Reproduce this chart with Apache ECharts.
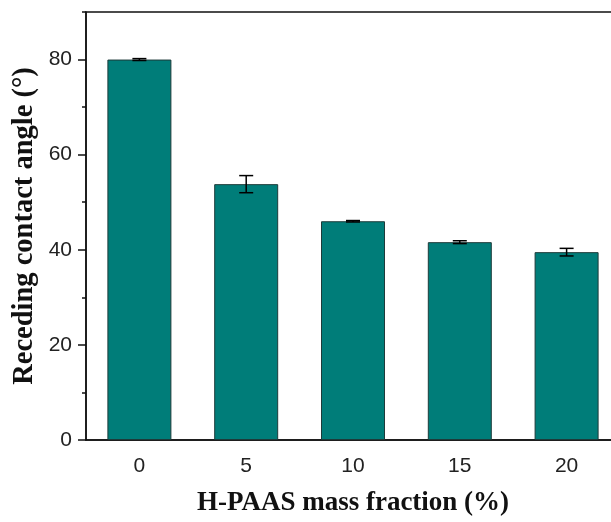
<!DOCTYPE html>
<html>
<head>
<meta charset="utf-8">
<script src="https://cdn.jsdelivr.net/npm/echarts@6/dist/echarts.min.js"></script>
<style>
  html, body { margin: 0; padding: 0; background: #fff; overflow: hidden; }
  #chart { width: 620px; height: 522px; }
</style>
</head>
<body>
<div id="chart"></div>
<script>
// H-PAAS mass fraction (%)
const categories = ['0', '5', '10', '15', '20']
// receding contact angle (°) and its error
const angles = [80.0, 53.8, 46.0, 41.6, 39.5]
const errors = [0.2, 1.8, 0.15, 0.3, 0.8]
const yTicks = [0, 20, 40, 60, 80]

const barColor = '#007d79'
const axisColor = '#111'
const labelFont = { fontFamily: 'Liberation Sans', fontSize: 21, color: '#222' }

const errorData = angles.map((v, i) => [i, v - errors[i], v + errors[i]])

// the plot runs a few pixels past the right edge of the window, as in the figure
const chart = echarts.init(document.getElementById('chart'), null, { renderer: 'canvas' })

const option = {
  animation: false,
  backgroundColor: '#fff',
  grid: {
    left: 86,
    right: 0,
    top: 12,
    bottom: 81,
    show: true,
    borderColor: axisColor,
    borderWidth: 1.5
  },
  xAxis: [{
    type: 'category',
    data: categories,
    position: 'bottom',
    axisLine: { lineStyle: { color: axisColor, width: 1.5 } },
    axisTick: { alignWithLabel: true, length: 7, lineStyle: { color: axisColor, width: 1.5 } },
    axisLabel: Object.assign({ margin: 16 }, labelFont),
    splitLine: { show: false },
    name: 'H-PAAS mass fraction (%)',
    nameLocation: 'middle',
    nameGap: 50,
    nameTextStyle: { fontFamily: 'Liberation Serif', fontWeight: 'bold', fontSize: 27, color: '#111' }
  }, {
    type: 'category',
    data: categories,
    position: 'bottom',
    axisLine: { show: false },
    axisTick: { length: 4, lineStyle: { color: axisColor, width: 1.5 } },
    axisLabel: { show: false },
    splitLine: { show: false }
  }],
  yAxis: [{
    type: 'value',
    position: 'left',
    min: 0,
    max: 90,
    interval: 10,
    axisLine: { show: true, lineStyle: { color: axisColor, width: 1.5 } },
    axisTick: { show: true, length: 4, lineStyle: { color: axisColor, width: 1.5 } },
    axisLabel: { show: false },
    splitLine: { show: false },
    name: 'Receding contact angle (°)',
    nameLocation: 'middle',
    nameGap: 47,
    nameTextStyle: { fontFamily: 'Liberation Serif', fontWeight: 'bold', fontSize: 28.5, color: '#111' }
  }, {
    type: 'value',
    position: 'left',
    min: 0,
    max: 90,
    axisLine: { show: false },
    axisTick: { show: true, length: 8, customValues: yTicks, lineStyle: { color: axisColor, width: 1.5 } },
    axisLabel: Object.assign({ margin: 14, customValues: yTicks }, labelFont),
    splitLine: { show: false }
  }],
  series: [{
    type: 'bar',
    data: angles,
    barWidth: 64,
    itemStyle: { color: barColor, borderColor: '#1d3b3a', borderWidth: 1 }
  }, {
    type: 'custom',
    data: errorData,
    z: 10,
    renderItem: function (params, api) {
      const x = api.value(0)
      const lo = api.coord([x, api.value(1)])
      const hi = api.coord([x, api.value(2)])
      const half = 7
      const style = { stroke: '#000', lineWidth: 1.5 }
      return {
        type: 'group',
        children: [
          { type: 'line', shape: { x1: lo[0], y1: lo[1], x2: hi[0], y2: hi[1] }, style: style },
          { type: 'line', shape: { x1: hi[0] - half, y1: hi[1], x2: hi[0] + half, y2: hi[1] }, style: style },
          { type: 'line', shape: { x1: lo[0] - half, y1: lo[1], x2: lo[0] + half, y2: lo[1] }, style: style }
        ]
      }
    }
  }]
}

chart.setOption(option)
</script>
</body>
</html>
